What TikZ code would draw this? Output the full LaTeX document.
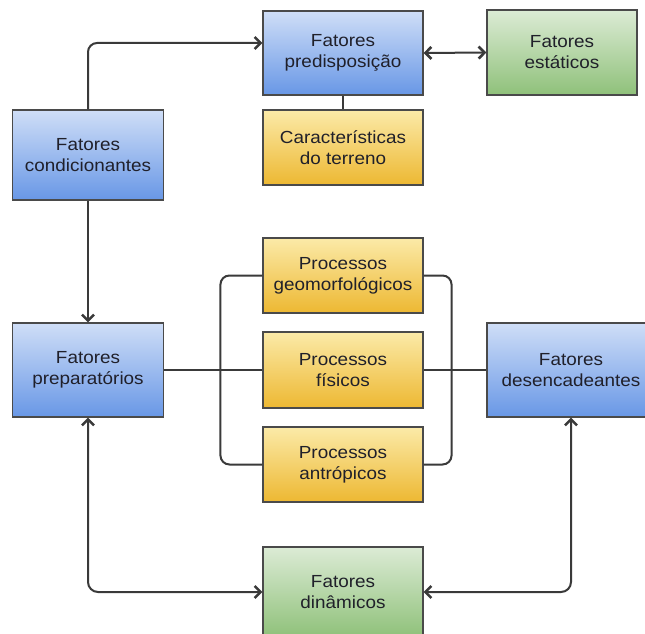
\documentclass[tikz,border=0pt]{standalone}
\usepackage{fontspec}
\setmainfont[FakeStretch=1.08]{Liberation Sans}
\usetikzlibrary{arrows.meta}
\definecolor{bluetop}{HTML}{CFDEF7}
\definecolor{bluebot}{HTML}{6897E6}
\definecolor{greentop}{HTML}{DCEBD5}
\definecolor{greenbot}{HTML}{8FC17A}
\definecolor{yellowtop}{HTML}{FBEAA8}
\definecolor{yellowbot}{HTML}{EDB832}
\definecolor{edge}{HTML}{4A4A4A}
\definecolor{linec}{HTML}{3A3A3A}
\definecolor{txt}{HTML}{20202A}
\tikzset{
  box/.style={draw=edge, line width=1.1pt, align=center, inner sep=0pt,
    font=\fontsize{17.5}{21}\selectfont, text=txt},
  bluebox/.style={box, top color=bluetop, bottom color=bluebot},
  greenbox/.style={box, top color=greentop, bottom color=greenbot},
  yellowbox/.style={box, top color=yellowtop, bottom color=yellowbot},
  conn/.style={draw=linec, line width=2pt},
  >={Straight Barb[length=6pt,width=12pt,line width=2.6pt]}
}
\begin{document}
\begin{tikzpicture}[x=1pt,y=-1pt]
\useasboundingbox[fill=white] (0,0) rectangle (645,634);
% boxes
\node[bluebox, minimum width=151pt, minimum height=90pt] (cond) at (88,155) {Fatores\\condicionantes};
\node[bluebox, minimum width=160pt, minimum height=84pt] (pred) at (343,53) {Fatores\\predisposição};
\node[greenbox, minimum width=150pt, minimum height=85pt] (est) at (562,52.5) {Fatores\\estáticos};
\node[yellowbox, minimum width=160pt, minimum height=75pt] (carac) at (343,147.5) {Características\\do terreno};
\node[yellowbox, minimum width=160pt, minimum height=75pt] (geo) at (343,275.5) {Processos\\geomorfológicos};
\node[yellowbox, minimum width=160pt, minimum height=76pt] (fis) at (343,370) {Processos\\físicos};
\node[yellowbox, minimum width=160pt, minimum height=75pt] (antr) at (343,464.5) {Processos\\antrópicos};
\node[bluebox, minimum width=151pt, minimum height=94pt] (prep) at (88,370) {Fatores\\preparatórios};
\node[bluebox, minimum width=168pt, minimum height=94pt] (desc) at (571,370) {Fatores\\desencadeantes};
\node[greenbox, minimum width=160pt, minimum height=90pt] (din) at (343,592) {Fatores\\dinâmicos};
% connectors
\draw[conn,->,rounded corners=9pt] (cond.north) |- ([yshift=10pt]pred.west);
\draw[conn,<->] (pred.east) -- (est.west);
\draw[conn] (pred.south) -- (carac.north);
\draw[conn,->] (cond.south) -- (prep.north);
\draw[conn] (prep.east) -- (fis.west);
\draw[conn] (fis.east) -- (desc.west);
\draw[conn,rounded corners=9pt] (geo.west) -- ++(-42,0) |- (antr.west);
\draw[conn,rounded corners=9pt] (geo.east) -- ++(28,0) |- (antr.east);
\draw[conn,<->,rounded corners=10pt] (prep.south) |- (din.west);
\draw[conn,<->,rounded corners=10pt] (desc.south) |- (din.east);
\end{tikzpicture}
\end{document}
